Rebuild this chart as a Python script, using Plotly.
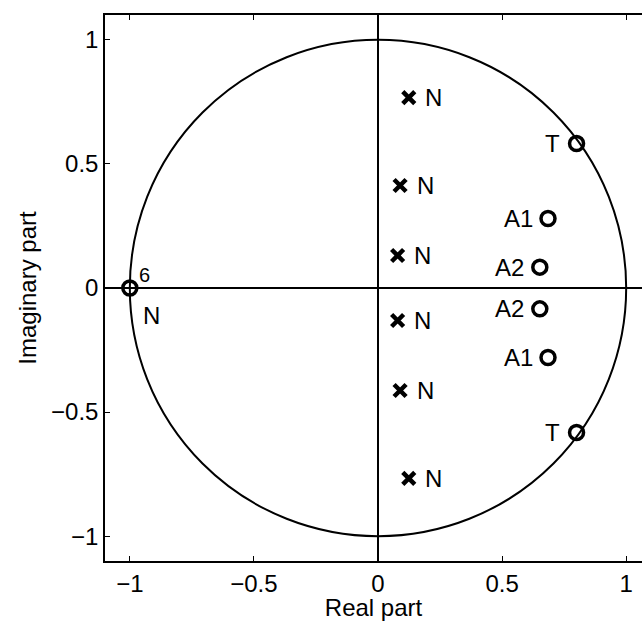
import plotly.graph_objects as go

# Zeros of the transfer function (open circles) and their tags
zero_re = [-1.0, 0.80, 0.80, 0.685, 0.685, 0.652, 0.652]
zero_im = [0.0, 0.582, -0.582, 0.280, -0.280, 0.084, -0.084]
zero_tag = ["N", "T", "T", "A1", "A1", "A2", "A2"]

# Poles (crosses), all tagged N
pole_re = [0.124, 0.124, 0.089, 0.089, 0.079, 0.079]
pole_im = [0.767, -0.767, 0.413, -0.413, 0.131, -0.131]
pole_tag = ["N", "N", "N", "N", "N", "N"]

# multiplicity of the zero at z = -1
zero_mult = "6"

ticks = [-1, -0.5, 0, 0.5, 1]
tick_text = ["\u22121", "\u22120.5", "0", "0.5", "1"]

FONT = "Liberation Sans, Arial, Helvetica, sans-serif"
W, H = 642, 621
ML, MR, MT, MB = 105, 0, 15, 60
ylo, yhi = -1.1, 1.1
px_per_unit = (H - MT - MB) / (yhi - ylo)
xlo = -1.1
xhi = xlo + (W - ML - MR) / px_per_unit

fig = go.Figure()

# unit circle
fig.add_shape(type="circle", xref="x", yref="y", x0=-1, y0=-1, x1=1, y1=1,
              line=dict(color="black", width=2), layer="below")

fig.add_trace(go.Scatter(
    x=pole_re, y=pole_im, mode="markers",
    marker=dict(symbol="x-thin-open", size=12, color="black",
                line=dict(color="black", width=4.5)),
    hoverinfo="skip", showlegend=False))

fig.add_trace(go.Scatter(
    x=zero_re, y=zero_im, mode="markers",
    marker=dict(symbol="circle-open", size=14, color="black",
                line=dict(color="black", width=3.5)),
    hoverinfo="skip", showlegend=False))

ann_font = dict(family=FONT, size=24, color="black")

for xr, yi, t in zip(pole_re, pole_im, pole_tag):
    fig.add_annotation(x=xr, y=yi, text=t, showarrow=False, xanchor="center",
                       yanchor="middle", xshift=25, yshift=0, font=ann_font)

for xr, yi, t in zip(zero_re, zero_im, zero_tag):
    if xr < 0:
        # tag under the multiple zero at z = -1
        fig.add_annotation(x=xr, y=yi, text=t, showarrow=False, xanchor="center",
                           yanchor="middle", xshift=22, yshift=-27, font=ann_font)
        fig.add_annotation(x=xr, y=yi, text=zero_mult, showarrow=False,
                           xanchor="center", yanchor="middle", xshift=15, yshift=13,
                           font=dict(family=FONT, size=20, color="black"))
    else:
        shift = -24 if t == "T" else -30
        fig.add_annotation(x=xr, y=yi, text=t, showarrow=False, xanchor="center",
                           yanchor="middle", xshift=shift, yshift=0, font=ann_font)

axis_common = dict(
    tickvals=ticks, ticktext=tick_text, ticks="inside", ticklen=5, tickwidth=1,
    tickcolor="black", showline=True, linecolor="black", linewidth=1.5,
    showgrid=False, zeroline=True, zerolinecolor="black", zerolinewidth=1.7,
    tickfont=dict(family=FONT, size=24, color="black"),
)

fig.update_xaxes(range=[xlo, xhi], mirror="ticks",
                 title=dict(text="Real part", standoff=8,
                            font=dict(family=FONT, size=24, color="black")),
                 **axis_common)
fig.update_yaxes(range=[ylo, yhi], mirror=False,
                 title=dict(text="Imaginary part", standoff=8,
                            font=dict(family=FONT, size=24, color="black")),
                 **axis_common)

fig.update_layout(
    width=W, height=H,
    margin=dict(l=ML, r=MR, t=MT, b=MB, pad=0),
    plot_bgcolor="white", paper_bgcolor="white",
    font=dict(family=FONT, size=24, color="black"),
)

fig.write_html("out.html")
